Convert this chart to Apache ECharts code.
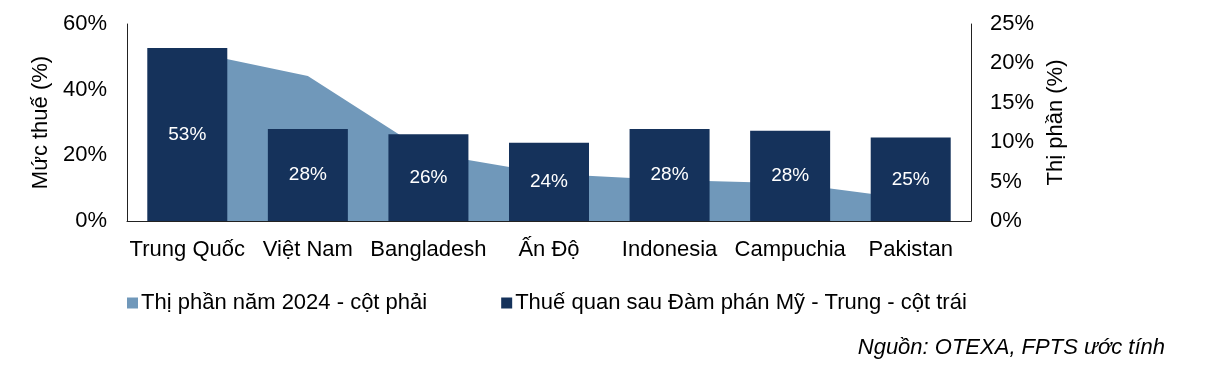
<!DOCTYPE html>
<html>
<head>
<meta charset="utf-8">
<script src="https://cdn.jsdelivr.net/npm/echarts@6/dist/echarts.min.js"></script>
<style>
html,body{margin:0;padding:0;background:#fff;}
#c{width:1229px;height:373px;}
</style>
</head>
<body>
<div id="c"></div>
<script>
var categories = ['Trung Quốc', 'Việt Nam', 'Bangladesh', 'Ấn Độ', 'Indonesia', 'Campuchia', 'Pakistan'];
var tariffAfterTalks = [52.7, 28.0, 26.4, 23.8, 28.0, 27.5, 25.4];
var marketShare2024 = [21.6, 18.4, 8.6, 6.0, 5.2, 4.8, 2.8];
var leftTicks = [0, 20, 40, 60];
var rightTicks = [0, 5, 10, 15, 20, 25];
var seriesNames = ['Thị phần năm 2024 - cột phải', 'Thuế quan sau Đàm phán Mỹ - Trung - cột trái'];
var sourceText = 'Nguồn: OTEXA, FPTS ước tính';

var FONT = '"Liberation Sans", Arial, sans-serif';
var chart = echarts.init(document.getElementById('c'), null, {renderer: 'canvas'});
chart.setOption({
  animation: false,
  backgroundColor: '#fff',
  textStyle: {fontFamily: FONT},
  grid: {left: 127, right: 258, top: 24, bottom: 152, containLabel: false},
  legend: {
    data: seriesNames,
    left: 122, top: 287,
    itemWidth: 11, itemHeight: 11, itemGap: 74,
    icon: 'rect',
    textStyle: {fontFamily: FONT, fontSize: 22, color: '#000', padding: [0, 0, 0, -2]}
  },
  graphic: [{
    type: 'text', right: 64, top: 337,
    style: {text: sourceText, font: 'italic 22px "Liberation Sans", Arial, sans-serif', fill: '#000'}
  }],
  xAxis: {
    type: 'category', data: categories, boundaryGap: true,
    axisLine: {show: true, lineStyle: {color: '#222', width: 1}},
    axisTick: {show: false},
    axisLabel: {color: '#000', fontSize: 22, fontFamily: FONT, margin: 18, interval: 0}
  },
  yAxis: [{
    type: 'value', min: leftTicks[0], max: leftTicks[leftTicks.length - 1], interval: 20,
    position: 'left',
    name: 'Mức thuế (%)', nameLocation: 'middle', nameRotate: 90, nameGap: 66,
    nameTextStyle: {color: '#000', fontSize: 22, fontFamily: FONT},
    axisLine: {show: true, lineStyle: {color: '#222', width: 1}},
    axisTick: {show: false},
    splitLine: {show: false},
    axisLabel: {color: '#000', fontSize: 22, fontFamily: FONT, margin: 20, formatter: '{value}%'}
  }, {
    type: 'value', min: rightTicks[0], max: rightTicks[rightTicks.length - 1], interval: 5,
    position: 'right',
    name: 'Thị phần (%)', nameLocation: 'middle', nameRotate: 90, nameGap: 74,
    nameTextStyle: {color: '#000', fontSize: 22, fontFamily: FONT},
    axisLine: {show: true, lineStyle: {color: '#222', width: 1}},
    axisTick: {show: false},
    splitLine: {show: false},
    axisLabel: {color: '#000', fontSize: 22, fontFamily: FONT, margin: 19, formatter: '{value}%'}
  }],
  series: [{
    name: seriesNames[0], type: 'line', yAxisIndex: 1, z: 1,
    data: marketShare2024,
    showSymbol: false, symbol: 'none',
    lineStyle: {width: 0, color: '#7098BA'},
    itemStyle: {color: '#7098BA'},
    areaStyle: {color: '#7098BA', opacity: 1}
  }, {
    name: seriesNames[1], type: 'bar', yAxisIndex: 0, z: 5,
    data: tariffAfterTalks, barWidth: 80,
    itemStyle: {color: '#15325B'},
    label: {
      show: true, position: 'inside', color: '#fff', fontSize: 19, fontFamily: FONT,
      formatter: function (p) { return Math.round(p.value) + '%'; }
    }
  }]
});
</script>
</body>
</html>
